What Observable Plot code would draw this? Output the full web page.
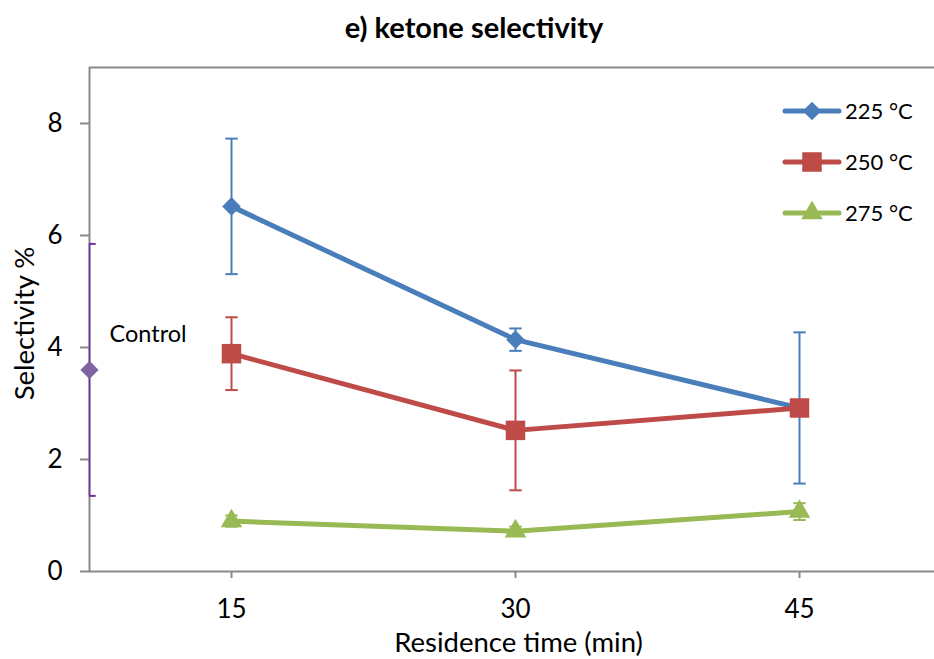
<!DOCTYPE html>
<html>
<head>
<meta charset="utf-8">
<script src="https://cdn.jsdelivr.net/npm/d3@7"></script>
<script src="https://cdn.jsdelivr.net/npm/@observablehq/plot@0.6"></script>
<style>
  html, body { margin: 0; padding: 0; background: #fff; }
  #chart { position: relative; width: 934px; height: 659px; font-family: Lato, "Open Sans", sans-serif; }
  #title { position: absolute; left: 0; width: 948px; top: 9px; text-align: center;
           font-weight: bold; font-size: 29px; line-height: 36px; color: #000; }
  #legend { position: absolute; left: 782px; top: 85px; }
  .row { display: flex; align-items: center; height: 51px; font-size: 22px; color: #000; }
  .row svg { margin-right: 3px; }
</style>
</head>
<body>
<div id="chart">
  <div id="title">e) ketone selectivity</div>
  <div id="legend"></div>
</div>
<script>
// Residence times (min) and series
const times = [15, 30, 45];
const seriesNames = ["225 °C", "250 °C", "275 °C"];
const seriesColors = ["#4a7ebb", "#be4b48", "#98b954"];
const seriesSymbols = ["diamond2", "square", "triangle"];
const seriesRadius = [8.4, 11, 8];

// Mean selectivity (%) and error (±)
const sel225 = [6.52, 4.14, 2.92];
const err225 = [1.21, 0.2, 1.35];
const sel250 = [3.89, 2.52, 2.92];
const err250 = [0.65, 1.07, 0.12];
const sel275 = [0.9, 0.72, 1.07];
const err275 = [0.1, 0.08, 0.15];

// Control sample, drawn on the left edge of the time axis
const controlTime = 7.5;
const controlSel = 3.6;
const controlErr = 2.25;
const controlLabel = "Control";
const controlColor = "#8064a2";
const controlBarColor = "#7030a0";

const yTicks = [0, 2, 4, 6, 8];
const xDomain = [7.5, 52.13];
const yDomain = [0, 9];
const axisColor = "#898989";

const means = [sel225, sel250, sel275];
const errs = [err225, err250, err275];
const data = [];
seriesNames.forEach((s, i) => times.forEach((t, j) => {
  data.push({series: s, time: t, sel: means[i][j], lo: means[i][j] - errs[i][j], hi: means[i][j] + errs[i][j]});
}));
const control = [{time: controlTime, sel: controlSel, lo: controlSel - controlErr, hi: controlSel + controlErr, label: controlLabel}];
const caps = data.flatMap(d => [{...d, v: d.lo}, {...d, v: d.hi}]);
const controlCaps = [{...control[0], v: control[0].lo}, {...control[0], v: control[0].hi}];

// horizontal cap symbol for the error bars
const cap = {draw(ctx, size) { const w = Math.sqrt(size) / 2; ctx.moveTo(-w, 0); ctx.lineTo(w, 0); }};

const font = "Lato, 'Open Sans', sans-serif";
const tickFont = 26;

const chart = Plot.plot({
  width: 934,
  height: 659,
  marginTop: 67,
  marginBottom: 88,
  marginLeft: 89,
  marginRight: 0,
  style: {fontFamily: font, fontSize: `${tickFont}px`, background: "#fff", overflow: "visible"},
  x: {domain: xDomain},
  y: {domain: yDomain},
  color: {domain: seriesNames, range: seriesColors},
  marks: [
    // frame lines
    Plot.ruleY([yDomain[1]], {stroke: axisColor, strokeWidth: 2}),
    Plot.ruleX([xDomain[0]], {stroke: axisColor, strokeWidth: 2}),
    Plot.ruleY([0], {stroke: axisColor, strokeWidth: 2}),
    Plot.axisY({ticks: yTicks, tickSize: 9, tickPadding: 18, fontSize: tickFont, color: "#000", stroke: axisColor, strokeWidth: 2, label: null, tickFormat: d => d}),
    Plot.axisX({ticks: times, tickSize: 7, tickPadding: 21, fontSize: tickFont, color: "#000", stroke: axisColor, strokeWidth: 2, label: null, tickFormat: d => d}),
    Plot.text(["Selectivity %"], {frameAnchor: "left", textAnchor: "middle", lineAnchor: "middle", rotate: -90, dx: -64, dy: 4, fontSize: 27.5, fill: "#000"}),
    Plot.text(["Residence time (min)"], {frameAnchor: "bottom", textAnchor: "middle", lineAnchor: "middle", dx: 6.5, dy: 72, fontSize: 27.5, fill: "#000"}),
    // error bars
    Plot.ruleX(data, {x: "time", y1: "lo", y2: "hi", stroke: "series", strokeWidth: 2}),
    Plot.dot(caps, {x: "time", y: "v", symbol: () => cap, r: 7, stroke: "series", strokeWidth: 2}),
    Plot.ruleX(control, {x: "time", y1: "lo", y2: "hi", stroke: controlBarColor, strokeWidth: 1.6}),
    Plot.dot(controlCaps, {x: "time", y: "v", symbol: () => cap, r: 7, stroke: controlBarColor, strokeWidth: 2, clip: "frame"}),
    // series lines and markers
    Plot.line(data, {x: "time", y: "sel", z: "series", stroke: "series", strokeWidth: 5}),
    ...seriesNames.map((s, i) => Plot.dot(data.filter(d => d.series === s), {
      x: "time", y: "sel", symbol: () => seriesSymbols[i], r: seriesRadius[i], fill: seriesColors[i]
    })),
    Plot.dot(control, {x: "time", y: "sel", symbol: () => "diamond2", r: 8.2, fill: controlColor}),
    Plot.text(control, {x: "time", y: "sel", text: "label", textAnchor: "start", dx: 20, dy: -35, fontSize: 23.5, fill: "#000"})
  ]
});
document.getElementById("chart").prepend(chart);

// legend
const symbolTypes = {diamond2: d3.symbolDiamond2, square: d3.symbolSquare, triangle: d3.symbolTriangle};
const legend = d3.select("#legend");
seriesNames.forEach((s, i) => {
  const row = legend.append("div").attr("class", "row");
  const svg = row.append("svg").attr("width", 60).attr("height", 24);
  svg.append("line").attr("x1", 3).attr("x2", 57).attr("y1", 12).attr("y2", 12)
    .attr("stroke", seriesColors[i]).attr("stroke-width", 5).attr("stroke-linecap", "round");
  svg.append("path").attr("transform", "translate(30,12)")
    .attr("d", d3.symbol(symbolTypes[seriesSymbols[i]], Math.PI * seriesRadius[i] * seriesRadius[i])())
    .attr("fill", seriesColors[i]);
  row.append("span").text(s);
});
</script>
</body>
</html>
